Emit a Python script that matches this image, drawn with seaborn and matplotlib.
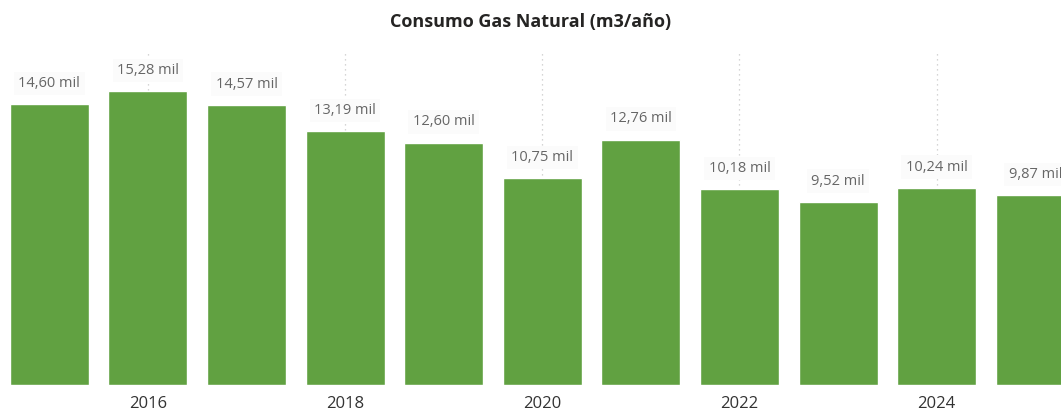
import matplotlib
matplotlib.use("Agg")
import matplotlib.pyplot as plt
import seaborn as sns

# Data (thousand m3 per year)
years = ["2015", "2016", "2017", "2018", "2019", "2020", "2021", "2022", "2023", "2024", "2025"]
consumo = [14.60, 15.28, 14.57, 13.19, 12.60, 10.75, 12.76, 10.18, 9.52, 10.24, 9.87]
tick_years = ["2016", "2018", "2020", "2022", "2024"]

sns.set_style("white")
plt.rcParams['font.family'] = ['Open Sans', 'DejaVu Sans']

fig = plt.figure(figsize=(10.61, 4.12), dpi=100)
# axes spans the whole width; last bar is cut at the right edge like the original
ax = fig.add_axes([0, 27 / 412, 1.0, 333 / 412])

# dotted vertical gridlines at the labelled years
for y in tick_years:
    ax.axvline(years.index(y), color="#c8c8c8", linestyle=(0, (1, 3)), linewidth=0.9, zorder=0)

sns.barplot(x=years, y=consumo, color="#61a141", saturation=1, width=0.8, ax=ax, zorder=2)

for i, v in enumerate(consumo):
    txt = f"{v:.2f}".replace(".", ",") + " mil"
    ax.annotate(txt, (i, v), xytext=(0, 15), textcoords="offset points",
                ha="center", va="center", fontsize=10.5, color="#666666",
                bbox=dict(boxstyle="square,pad=0.3", fc="#fbfbfb", ec="none"), zorder=3)

ax.set_xlim(-0.5, -0.5 + 1061 / 98.6)
ax.set_ylim(0, 17.32)
ax.set_xticks([years.index(y) for y in tick_years])
ax.set_xticklabels(tick_years, fontsize=12, color="#333333")
ax.tick_params(axis="x", length=0, pad=8)
ax.set_yticks([])
ax.set_xlabel("")
ax.set_ylabel("")
sns.despine(left=True, bottom=True, right=True, top=True)

fig.text(0.5, 1 - 22 / 412, "Consumo Gas Natural (m3/año)", ha="center", va="center",
         fontsize=13, fontweight="bold", color="#252423")

fig.savefig("out.png", dpi=100)
